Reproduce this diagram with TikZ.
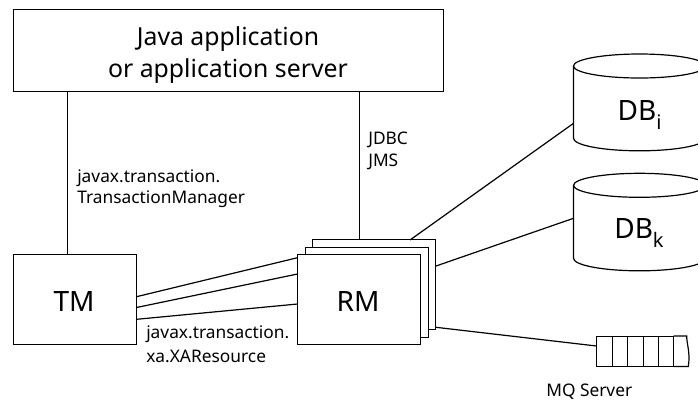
\documentclass[tikz,border=0pt]{standalone}
\usepackage{fontspec}
\setmainfont{Noto Sans}
\tikzset{
 x=0.75pt,y=-0.75pt,
 ln/.style={draw=black,line width=0.9pt},
 box/.style={ln,fill=white,inner sep=0pt,outer sep=0pt,anchor=north west},
 lab/.style={font=\fontsize{13}{16.5}\selectfont,align=left,anchor=base west,inner sep=0pt},
 big/.style={font=\fontsize{21}{25}\selectfont,inner sep=0pt,anchor=base},
 title/.style={font=\fontsize{18.6}{24}\selectfont,inner sep=0pt,anchor=base,align=center}
}
\newcommand{\sbx}[1]{\raisebox{-0.34em}{\fontsize{15}{15}\selectfont #1}}
\begin{document}
\begin{tikzpicture}
\useasboundingbox (0,0) rectangle (698,401);
% boxes
\node[box,minimum width=322.5pt,minimum height=61.5pt] (app) at (13.5,9.5) {};
\node[box,minimum width=92.25pt,minimum height=67.5pt] (tm) at (13.5,254.5) {};
\node[box,minimum width=92.25pt,minimum height=67.5pt] (rm3) at (312.5,239.5) {};
\node[box,minimum width=92.25pt,minimum height=67.5pt] (rm2) at (305.5,247.5) {};
\node[box,minimum width=92.25pt,minimum height=67.5pt] (rm) at (297.5,254.5) {};
% texts
\node[title] (t1) at (228,45) {Java application};
\node[title] (t2) at (228,77) {or application server};
\node[big] (tmt) at (74,311) {TM};
\node[big] (rmt) at (358,311) {RM};
\node[lab] (l1a) at (77,182.7) {javax.transaction.};
\node[lab] (l1b) at (77,203.3) {TransactionManager};
\node[lab] (l2a) at (368,144) {JDBC};
\node[lab] (l2b) at (368,166.7) {JMS};
\node[lab] (l3a) at (146,338.7) {javax.transaction.};
\node[lab] (l3b) at (146,362) {xa.XAResource};
\node[lab] (mq) at (546,396.5) {MQ Server};
% cylinders
\draw[ln] (573.5,66) coordinate (dbia) -- (573.5,138.3) coordinate (dbib)
  arc[start angle=180,end angle=0,x radius=66,y radius=12.5];
\draw[ln] (639.5,66) ellipse[x radius=66,y radius=12];
\draw[ln] (573.5,185.3) coordinate (dbka) -- (573.5,258.3) coordinate (dbkb)
  arc[start angle=180,end angle=0,x radius=66,y radius=12.5];
\draw[ln] (639.5,185.3) ellipse[x radius=66,y radius=12];
\node[big] (dbi) at (639.5,120) {DB\sbx{i}};
\node[big] (dbk) at (639,238) {DB\sbx{k}};
\coordinate (dbip) at (573.5,123.3);
\coordinate (dbkp) at (573.5,218.3);
% queue
\node[box,minimum width=57.75pt,minimum height=22.5pt] (q1) at (596.5,336.5) {};
\draw[ln] (612.5,336.5) -- (612.5,366.5);
\draw[ln] (627.5,336.5) -- (627.5,366.5);
\draw[ln] (643.5,336.5) -- (643.5,366.5);
\draw[ln] (658.5,336.5) -- (658.5,366.5);
\draw[ln] (673.5,336) -- (686.7,336) .. controls (686.7,345) and (690.5,352) .. (688.3,366.5) -- (673.5,366.5);
\coordinate (qp) at (596.5,346);
% connectors
\coordinate (v1) at (67.5,0);
\coordinate (v2) at (359.5,0);
\draw[ln] (v1 |- app.south) -- (v1 |- tm.north);
\draw[ln] (v2 |- app.south) -- (v2 |- rm3.north);
\coordinate (a1) at (136.5,296.7); \coordinate (b1) at (297.5,257.7);
\coordinate (a2) at (136.5,307.5); \coordinate (b2) at (297.5,274);
\coordinate (a3) at (136.5,319.3); \coordinate (b3) at (297.5,304);
\draw[ln] (a1) -- (b1);
\draw[ln] (a2) -- (b2);
\draw[ln] (a3) -- (b3);
\coordinate (c1) at (410,240); \coordinate (c2) at (436,266); \coordinate (c3) at (436,327.3);
\draw[ln] (c1) -- (dbip);
\draw[ln] (c2) -- (dbkp);
\draw[ln] (c3) -- (qp);
\end{tikzpicture}
\end{document}
